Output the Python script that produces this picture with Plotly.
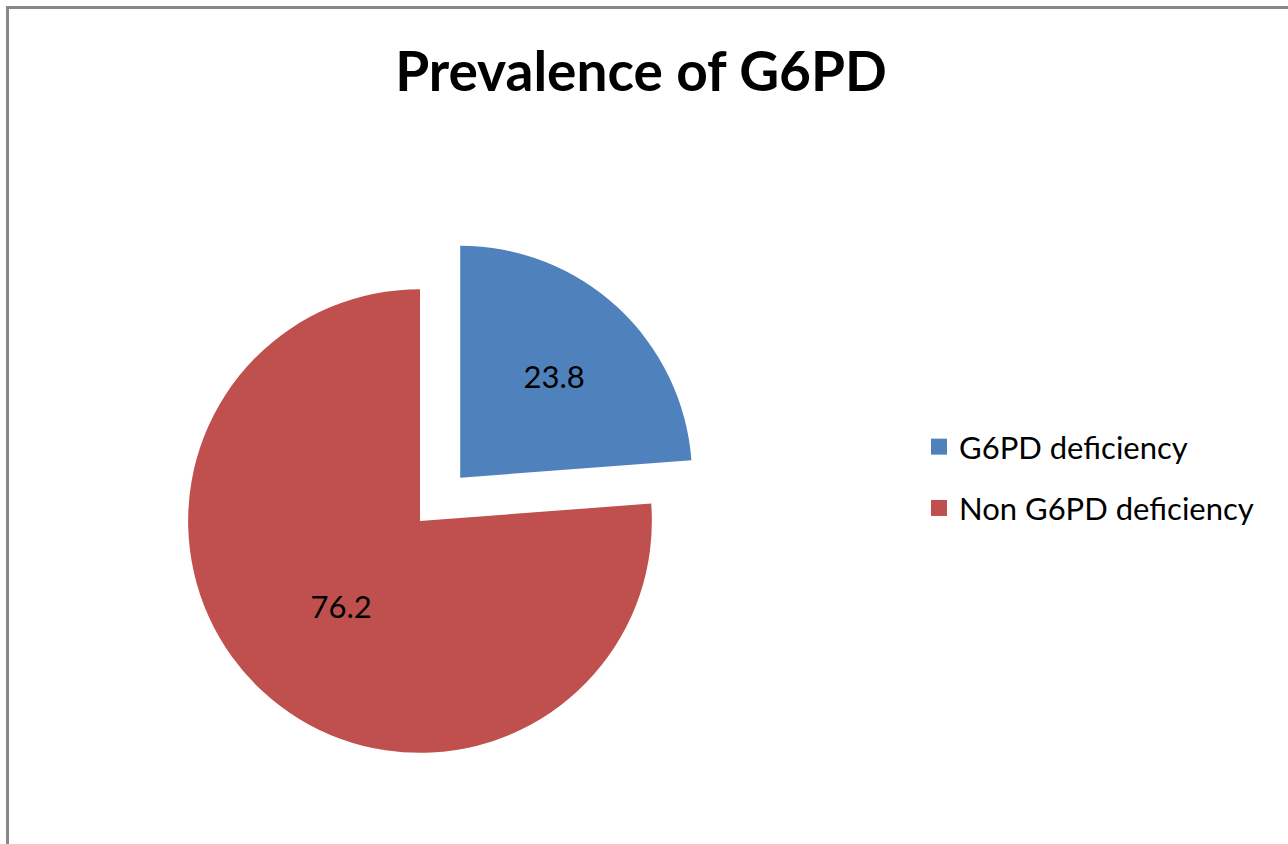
import plotly.graph_objects as go

labels = ["G6PD deficiency", "Non G6PD deficiency"]
values = [23.8, 76.2]
colors = ["#4F81BD", "#C0504D"]
title_text = "Prevalence of G6PD"

W, H = 1288, 844
FONT = "Lato"

fig = go.Figure()
fig.add_trace(go.Pie(
    labels=labels, values=values, sort=False, direction="clockwise", rotation=0,
    pull=[0.255, 0], marker=dict(colors=colors, line=dict(width=0)),
    textinfo="value", textposition="inside", insidetextorientation="horizontal",
    textfont=dict(family=FONT, size=31, color="#000000"),
    domain=dict(x=[128 / W, 712 / W], y=[32 / H, 614 / H]),
    showlegend=False, hoverinfo="label+value",
))
for i, (lab, col) in enumerate(zip(labels, colors)):
    fig.add_trace(go.Scatter(
        x=[None], y=[None], mode="markers", name=lab, legendgroup=f"g{i}",
        marker=dict(symbol="square", size=16, color=col),
    ))

fig.update_layout(
    width=W, height=H, margin=dict(l=0, r=0, t=0, b=0),
    paper_bgcolor="white", plot_bgcolor="white",
    xaxis=dict(visible=False), yaxis=dict(visible=False),
    title=dict(text=f"<b>{title_text}</b>", x=641 / W, xanchor="center",
               y=1 - 72 / H, yanchor="middle", xref="paper",
               font=dict(family=FONT, size=55, color="#000000")),
    legend=dict(x=919 / W, xanchor="left", y=1 - 420 / H, yanchor="top",
                font=dict(family=FONT, size=31, color="#000000"),
                tracegroupgap=18, bgcolor="rgba(0,0,0,0)"),
    shapes=[dict(type="rect", xref="paper", yref="paper",
                 x0=7.5 / W, x1=1.02, y0=-0.02, y1=1 - 7.5 / H,
                 line=dict(color="#888888", width=3))],
)
fig.write_html("out.html")
